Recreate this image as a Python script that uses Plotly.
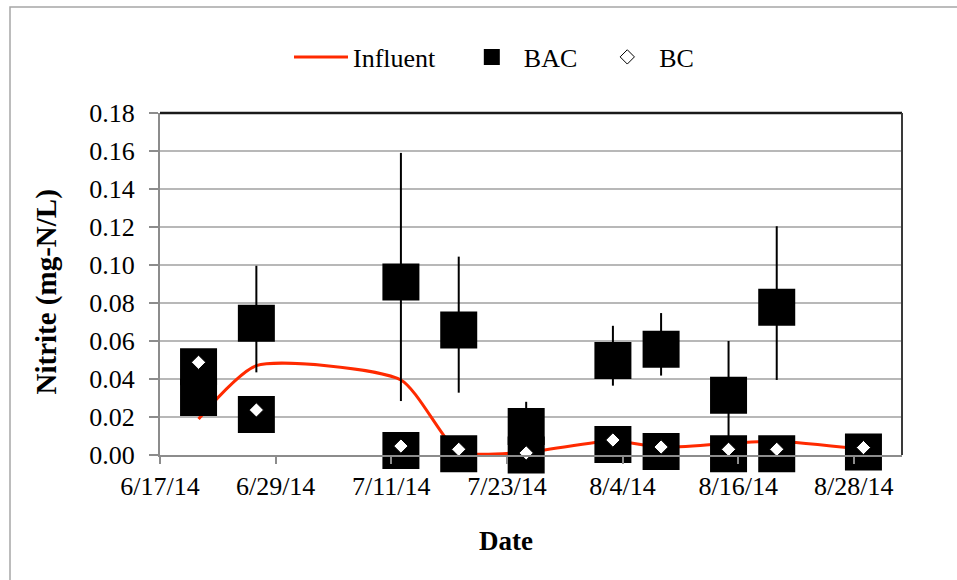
import plotly.graph_objects as go

# ---- data ----
dates = ["2014-06-21", "2014-06-27", "2014-07-12", "2014-07-18", "2014-07-25",
         "2014-08-03", "2014-08-08", "2014-08-15", "2014-08-20", "2014-08-29"]
influent = [0.019, 0.047, 0.0395, 0.0018, 0.0015, 0.0075, 0.0040, 0.0062, 0.0072, 0.0030]
bac = [0.0303, 0.0693, 0.0910, 0.0658, 0.0150, 0.0498, 0.0556, 0.0314, 0.0777, None]
bac_err_plus = [0.004, 0.0303, 0.0680, 0.0386, 0.0130, 0.0182, 0.0191, 0.0286, 0.0427, 0]
bac_err_minus = [0.004, 0.0258, 0.0626, 0.0330, 0.0130, 0.0133, 0.0138, 0.0286, 0.0382, 0]
bc = [0.0488, 0.0237, 0.0047, 0.0030, 0.0011, 0.0079, 0.0042, 0.0030, 0.0030, 0.0039]
y_ticks = [0.00, 0.02, 0.04, 0.06, 0.08, 0.10, 0.12, 0.14, 0.16, 0.18]
legend_names = ["Influent", "BAC", "BC"]
x_title = "Date"
y_title = "Nitrite (mg-N/L)"

# ---- layout geometry (pixels) ----
W, H = 957, 580
L, R, T, B = 160, 55, 113, 125
plot_w, plot_h = W - L - R, H - T - B
Y_MAX = 0.18
px_to_y = Y_MAX / plot_h
BC_BOX_SHIFT = 4.5 * px_to_y  # black box behind BC drawn slightly below diamond
PAD3 = "\u00a0" * 3  # extra spacing after legend entries
PAD2 = "\u00a0" * 2

FONT = "Liberation Serif, Times New Roman, serif"


def px_x(p):
    return (p - L) / plot_w


def px_y(p):
    return (H - B - p) / plot_h


fig = go.Figure()

fig.add_trace(go.Scatter(
    x=dates, y=influent, name=legend_names[0] + PAD3, mode="lines",
    line=dict(color="#FF2A00", width=3, shape="spline", smoothing=0.6),
))

fig.add_trace(go.Scatter(
    x=dates, y=bac, name=legend_names[1] + PAD2, mode="markers", cliponaxis=False,
    marker=dict(symbol="square", size=37, color="black", line=dict(width=0)),
    error_y=dict(type="data", symmetric=False, array=bac_err_plus,
                 arrayminus=bac_err_minus, color="black", thickness=2, width=0),
))

fig.add_trace(go.Scatter(
    x=dates, y=[max(v - BC_BOX_SHIFT, 0.0) for v in bc], mode="markers", showlegend=False,
    cliponaxis=False,
    marker=dict(symbol="square", size=37, color="black", line=dict(width=0)),
    hoverinfo="skip",
))

fig.add_trace(go.Scatter(
    x=dates, y=bc, name=legend_names[2], mode="markers", cliponaxis=False,
    marker=dict(symbol="diamond", size=11, color="white",
                line=dict(color="black", width=1)),
))

fig.update_layout(
    width=W, height=H,
    margin=dict(l=L, r=R, t=T, b=B),
    paper_bgcolor="white", plot_bgcolor="white",
    font=dict(family=FONT, size=26, color="black"),
    showlegend=True,
    legend=dict(orientation="h", x=px_x(289), xanchor="left", y=px_y(57), yanchor="middle",
                font=dict(family=FONT, size=26), itemwidth=54,
                bgcolor="rgba(0,0,0,0)", traceorder="normal"),
    xaxis=dict(
        type="date",
        range=["2014-06-17", "2014-09-02"],
        tick0="2014-06-17", dtick=12 * 86400000,
        tickformat="%-m/%-d/%y",
        showgrid=False, zeroline=False,
        showline=True, linecolor="#8C8C8C", linewidth=2,
        ticks="outside", ticklen=7, tickcolor="#8C8C8C", tickwidth=2,
        tickfont=dict(family=FONT, size=26),
        mirror=False,
    ),
    yaxis=dict(
        range=[0, Y_MAX],
        tickvals=y_ticks, tickformat=".2f",
        showgrid=True, gridcolor="#B8B8B8", gridwidth=2,
        zeroline=False,
        showline=True, linecolor="#8C8C8C", linewidth=2,
        ticks="outside", ticklen=9, tickcolor="#8C8C8C", tickwidth=2,
        ticklabelstandoff=9,
        tickfont=dict(family=FONT, size=26),
    ),
    annotations=[
        dict(text="<b>" + x_title + "</b>", xref="paper", yref="paper",
             x=px_x(505.5), y=px_y(541), xanchor="center", yanchor="middle",
             showarrow=False, font=dict(family=FONT, size=27)),
        dict(text="<b>" + y_title + "</b>", xref="paper", yref="paper",
             x=px_x(46), y=px_y(291.5), xanchor="center", yanchor="middle",
             textangle=-90, showarrow=False, font=dict(family=FONT, size=29)),
    ],
)

# dark top and right plot border
fig.add_shape(type="line", xref="paper", yref="paper", x0=0, x1=1, y0=1, y1=1,
              line=dict(color="#1A1A1A", width=2.5))
fig.add_shape(type="line", xref="paper", yref="paper", x0=1, x1=1, y0=0, y1=1,
              line=dict(color="#3A3A3A", width=2))

# outer chart frame (left and top visible)
fig.add_shape(type="rect", xref="paper", yref="paper",
              x0=px_x(10), x1=px_x(W + 20), y0=px_y(7), y1=px_y(H + 20),
              line=dict(color="#A6A6A6", width=1.5), layer="below")

fig.write_html("out.html")
